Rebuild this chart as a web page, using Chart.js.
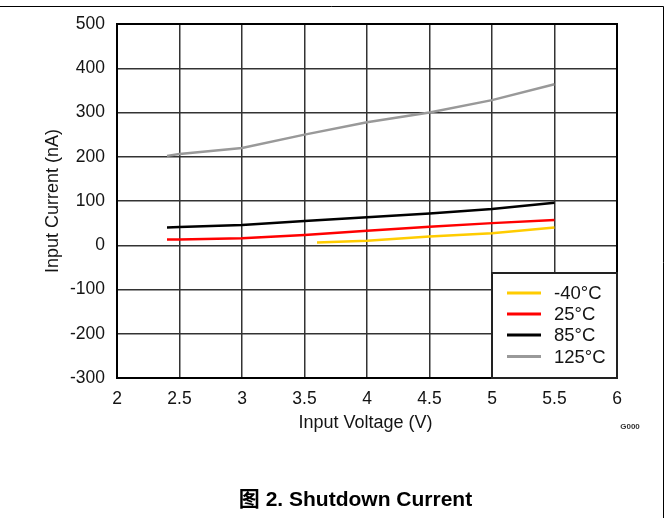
<!DOCTYPE html>
<html>
<head>
<meta charset="utf-8">
<script src="https://cdn.jsdelivr.net/npm/chart.js@4.4.0/dist/chart.umd.min.js"></script>
<style>
html,body{margin:0;padding:0;background:#fff;}
#wrap{position:relative;width:669px;height:518px;}
</style>
</head>
<body>
<div id="wrap"><canvas id="c" width="669" height="518"></canvas></div>
<script>
// ---- data ----
const seriesLabels = ['-40°C', '25°C', '85°C', '125°C'];
const seriesColors = ['#ffcc00', '#ff0000', '#000000', '#999999'];
const vinCold = [3.6, 4.0, 4.5, 5.0, 5.5];
const curM40  = [6, 10, 20, 27, 40];
const vin     = [2.4, 2.5, 3.0, 3.5, 4.0, 4.5, 5.0, 5.5];
const cur25   = [13, 13, 16, 23, 33, 42, 50, 57];
const cur85   = [40, 41, 46, 55, 63, 72, 82, 96];
const cur125  = [202, 206, 220, 250, 278, 300, 328, 364];
const xTicks  = [2, 2.5, 3, 3.5, 4, 4.5, 5, 5.5, 6];
const yTicks  = [-300, -200, -100, 0, 100, 200, 300, 400, 500];
const xTitle  = 'Input Voltage (V)';
const yTitle  = 'Input Current (nA)';
const figTitle = '图 2. Shutdown Current';
const noteText = 'G000';

const FONT = "'Liberation Sans', Arial, 'Noto Sans CJK SC', sans-serif";
const TXT = '#141414';

function pts(xs, ys){ return xs.map((x,i)=>({x:x, y:ys[i]})); }

const datasets = [
  {label: seriesLabels[0], data: pts(vinCold, curM40), borderColor: seriesColors[0], borderWidth: 2.5},
  {label: seriesLabels[1], data: pts(vin, cur25),  borderColor: seriesColors[1], borderWidth: 2.5},
  {label: seriesLabels[2], data: pts(vin, cur85),  borderColor: seriesColors[2], borderWidth: 2.5},
  {label: seriesLabels[3], data: pts(vin, cur125), borderColor: seriesColors[3], borderWidth: 2.5}
].map(d => Object.assign(d, {pointRadius: 0, fill: false, tension: 0, backgroundColor: d.borderColor}));

const extras = {
  id: 'extras',
  afterDraw(chart){
    const ctx = chart.ctx;
    const a = chart.chartArea;
    ctx.save();
    // plot border
    ctx.strokeStyle = '#000'; ctx.lineWidth = 2;
    ctx.strokeRect(a.left, a.top, a.right - a.left, a.bottom - a.top);
    // legend box
    const lx = 492, ly = 273, lw = a.right - 492, lh = a.bottom - 273;
    ctx.fillStyle = '#fff';
    ctx.fillRect(lx, ly, lw, lh);
    ctx.strokeStyle = '#222'; ctx.lineWidth = 2;
    ctx.strokeRect(lx, ly, lw, lh);
    const rows = [293, 314, 335, 356.5];
    ctx.font = '18.5px ' + FONT;
    ctx.textBaseline = 'middle'; ctx.textAlign = 'left';
    chart.data.datasets.forEach((d, i) => {
      ctx.strokeStyle = d.borderColor; ctx.lineWidth = 3;
      ctx.beginPath(); ctx.moveTo(507, rows[i]); ctx.lineTo(541, rows[i]); ctx.stroke();
      ctx.fillStyle = TXT;
      ctx.fillText(d.label, 554, rows[i] + 1);
    });
    // axis titles
    ctx.fillStyle = TXT;
    ctx.font = '18px ' + FONT;
    ctx.textAlign = 'center'; ctx.textBaseline = 'middle';
    ctx.fillText(xTitle, 365.5, 423);
    ctx.save();
    ctx.translate(53, 201);
    ctx.rotate(-Math.PI / 2);
    ctx.fillText(yTitle, 0, 0);
    ctx.restore();
    // small note
    ctx.font = 'bold 8px ' + FONT;
    ctx.fillStyle = '#333';
    ctx.fillText(noteText, 630, 427);
    // figure title
    ctx.font = 'bold 21px ' + FONT;
    ctx.fillStyle = '#000';
    ctx.fillText(figTitle, 355.5, 500);
    // outer frame (top and right)
    ctx.strokeStyle = '#000'; ctx.lineWidth = 1;
    ctx.beginPath();
    ctx.moveTo(0, 6.5); ctx.lineTo(663.5, 6.5); ctx.lineTo(663.5, 518);
    ctx.stroke();
    ctx.restore();
  }
};

new Chart(document.getElementById('c'), {
  type: 'line',
  data: {datasets: datasets},
  options: {
    responsive: false,
    animation: false,
    devicePixelRatio: 1,
    layout: {padding: {top: 24, right: 52, left: 0, bottom: 0}},
    plugins: {legend: {display: false}, tooltip: {enabled: false}, title: {display: false}},
    scales: {
      x: {
        type: 'linear', min: 2, max: 6,
        afterBuildTicks: s => { s.ticks = xTicks.map(v => ({value: v})); },
        afterFit: s => { s.height = 140; },
        grid: {color: '#333333', lineWidth: 1.5, drawTicks: false},
        border: {display: false},
        ticks: {padding: 11, color: TXT, font: {family: FONT, size: 17.5}, maxRotation: 0, autoSkip: false,
                callback: v => String(v)}
      },
      y: {
        type: 'linear', min: -300, max: 500,
        afterBuildTicks: s => { s.ticks = yTicks.map(v => ({value: v})); },
        afterFit: s => { s.width = 117; },
        grid: {color: '#333333', lineWidth: 1.5, drawTicks: false},
        border: {display: false},
        ticks: {padding: 12, color: TXT, font: {family: FONT, size: 17.5}, autoSkip: false,
                callback: v => String(v)}
      }
    }
  },
  plugins: [extras]
});
</script>
</body>
</html>
